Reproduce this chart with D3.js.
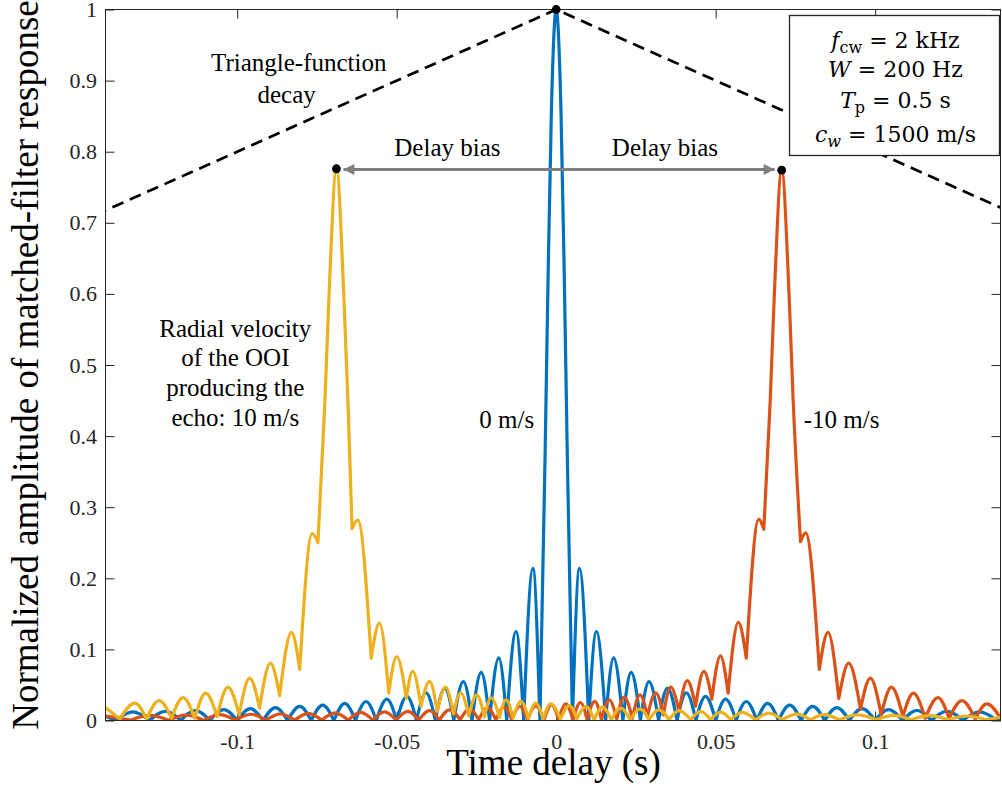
<!DOCTYPE html>
<html>
<head>
<meta charset="utf-8">
<script src="https://cdn.jsdelivr.net/npm/d3@7"></script>
<style>
  html, body { margin: 0; padding: 0; background: #fff; }
  svg { display: block; }
  text { font-family: "Liberation Serif", "Times New Roman", serif; }
</style>
</head>
<body>
<svg id="chart" width="1002" height="805"></svg>
<script>
// ---------------- data ----------------
const xTicks = [-0.1, -0.05, 0, 0.05, 0.1];
const xTickLabels = ["-0.1", "-0.05", "0", "0.05", "0.1"];
const yTicks = [0, 0.1, 0.2, 0.3, 0.4, 0.5, 0.6, 0.7, 0.8, 0.9, 1];
const yTickLabels = ["0", "0.1", "0.2", "0.3", "0.4", "0.5", "0.6", "0.7", "0.8", "0.9", "1"];

// extrema (time delay s, normalized amplitude)
const speed0 = [ // 0 m/s (blue)
  [-0.1439,0.0111],[-0.1382,0],[-0.1327,0.0120],[-0.1275,0],[-0.1225,0.0130],[-0.1177,0],[-0.1131,0.0141],[-0.1086,0],
  [-0.1042,0.0153],[-0.1000,0],[-0.0959,0.0166],[-0.0919,0],[-0.0880,0.0181],[-0.0842,0],[-0.0804,0.0198],[-0.0768,0],
  [-0.0732,0.0217],[-0.0697,0],[-0.0663,0.0240],[-0.0629,0],[-0.0596,0.0267],[-0.0564,0],[-0.0531,0.0300],[-0.0500,0],
  [-0.0468,0.0340],[-0.0438,0],[-0.0408,0.0390],[-0.0379,0],[-0.0349,0.0456],[-0.0321,0],[-0.0291,0.0546],[-0.0264,0],
  [-0.0235,0.0676],[-0.0209,0],[-0.0180,0.0880],[-0.0155,0],[-0.0126,0.1252],[-0.0102,0],[-0.0073,0.2140],[-0.0051,0],
  [-0.0035,0.368],[-0.0025,0.634],[-0.0015,0.858],[0,1],[0.0015,0.858],[0.0025,0.634],[0.0035,0.368],
  [0.0051,0],[0.0073,0.2140],[0.0102,0],[0.0126,0.1252],[0.0155,0],[0.0180,0.0880],[0.0209,0],[0.0235,0.0676],
  [0.0264,0],[0.0291,0.0546],[0.0321,0],[0.0349,0.0456],[0.0379,0],[0.0408,0.0390],[0.0438,0],[0.0468,0.0340],
  [0.0500,0],[0.0531,0.0300],[0.0564,0],[0.0596,0.0267],[0.0629,0],[0.0663,0.0240],[0.0697,0],[0.0732,0.0217],
  [0.0768,0],[0.0804,0.0198],[0.0842,0],[0.0880,0.0181],[0.0919,0],[0.0959,0.0166],[0.1000,0],[0.1042,0.0153],
  [0.1086,0],[0.1131,0.0141],[0.1177,0],[0.1225,0.0130],[0.1275,0],[0.1327,0.0120],[0.1382,0],[0.1439,0.0111]
];
const speedMinus10 = [ // -10 m/s (orange)
  [-0.1420,0.0068],[-0.1335,0.0005],[-0.1275,0.0072],[-0.1215,0.0005],[-0.1160,0.0077],[-0.1105,0.0005],
  [-0.1055,0.0082],[-0.1005,0.0005],[-0.0957,0.0088],[-0.0910,0.0005],[-0.0865,0.0094],[-0.0820,0.0005],
  [-0.0777,0.0100],[-0.0735,0.0005],[-0.0693,0.0107],[-0.0652,0.0005],[-0.0613,0.0113],[-0.0575,0.0005],
  [-0.0538,0.0120],[-0.0502,0.0005],[-0.0465,0.0127],[-0.0431,0.0005],[-0.0397,0.0140],[-0.0366,0.0005],
  [-0.0335,0.0150],[-0.0301,0.001],[-0.0272,0.0160],[-0.0243,0.001],[-0.0215,0.0174],[-0.0189,0.001],
  [-0.0163,0.0188],[-0.0139,0.001],[-0.0114,0.0197],[-0.0090,0.001],[-0.0064,0.0207],[-0.0038,0.001],
  [-0.0015,0.0220],[0.0008,0.001],[0.0030,0.0235],[0.0053,0.001],[0.0076,0.0253],[0.0097,0.001],
  [0.0121,0.0270],[0.0142,0.001],[0.0166,0.0290],[0.0190,0.002],[0.0213,0.0330],[0.0239,0.003],
  [0.0263,0.0360],[0.0286,0.0056],[0.0312,0.0390],[0.0336,0.008],[0.0359,0.0470],[0.0385,0.0127],
  [0.0411,0.0560],[0.0437,0.020],[0.0463,0.0690],[0.0488,0.030],[0.0515,0.0910],[0.0539,0.0385],
  [0.0571,0.1380],[0.0596,0.0877],[0.0635,0.2830],[0.0651,0.2690],[0.0671,0.45],[0.0684,0.60],
  [0.0707,0.774],[0.0730,0.60],[0.0743,0.45],[0.0766,0.2515],[0.0782,0.2640],[0.0825,0.072],
  [0.0852,0.1240],[0.0886,0.031],[0.0917,0.0807],[0.0954,0.016],[0.0985,0.0596],[0.1019,0.008],
  [0.1051,0.0470],[0.1087,0.0056],[0.1120,0.0385],[0.1157,0.003],[0.1197,0.0323],[0.1232,0.003],
  [0.1272,0.0280],[0.1314,0.002],[0.1350,0.0235],[0.1395,0.002],[0.1430,0.0200]
];
const speedPlus10 = [ // 10 m/s (yellow)
  [-0.1425,0.0225],[-0.1368,0.002],[-0.1321,0.0244],[-0.1284,0.002],[-0.1245,0.0281],[-0.1206,0.003],
  [-0.1170,0.0323],[-0.1133,0.003],[-0.1099,0.0385],[-0.1063,0.0056],[-0.1029,0.0470],[-0.0994,0.008],
  [-0.0961,0.0596],[-0.0930,0.0174],[-0.0896,0.0807],[-0.0867,0.035],[-0.0830,0.1240],[-0.0804,0.072],
  [-0.0765,0.2630],[-0.0747,0.2500],[-0.0725,0.45],[-0.0712,0.60],[-0.0689,0.776],[-0.0666,0.60],
  [-0.0653,0.45],[-0.0640,0.2700],[-0.0622,0.2820],[-0.0580,0.0877],[-0.0554,0.1370],[-0.0525,0.0385],
  [-0.0500,0.0900],[-0.0470,0.031],[-0.0450,0.0690],[-0.0424,0.020],[-0.0397,0.0550],[-0.0373,0.0127],
  [-0.0347,0.0470],[-0.0322,0.0094],[-0.0300,0.0390],[-0.0274,0.0066],[-0.0249,0.0360],[-0.0225,0.005],
  [-0.0204,0.0320],[-0.0178,0.004],[-0.0157,0.0290],[-0.0135,0.003],[-0.0110,0.0270],[-0.0087,0.002],
  [-0.0064,0.0245],[-0.0041,0.002],[-0.0017,0.0235],[0.0013,0.002],[0.0041,0.0210],[0.0065,0.002],
  [0.0093,0.0197],[0.0119,0.001],[0.0145,0.0188],[0.0173,0.001],[0.0202,0.0174],[0.0232,0.001],
  [0.0263,0.0160],[0.0291,0.001],[0.0322,0.0150],[0.0354,0.001],[0.0385,0.0140],[0.0422,0.001],
  [0.0453,0.0127],[0.0484,0.001],[0.0516,0.0118],[0.0547,0.001],[0.0583,0.0113],[0.0625,0.001],
  [0.0667,0.0104],[0.0708,0.001],[0.0755,0.0090],[0.0797,0.001],[0.0839,0.0084],[0.0888,0.001],
  [0.0945,0.0078],[0.1003,0.001],[0.1058,0.0073],[0.1113,0.001],[0.1170,0.0068],[0.1228,0.001],
  [0.1288,0.0063],[0.1348,0.001],[0.1410,0.0058]
];
const triangleDecay = [[-0.15, 0.70], [0, 1], [0.15, 0.70]];
const peakMarkers = [[-0.0689, 0.776], [0, 1], [0.0707, 0.774]];
const seriesColors = ["#0072BD", "#D95319", "#EDB120"];

// ---------------- layout ----------------
const svg = d3.select("#chart");
svg.append("rect").attr("width", 1002).attr("height", 805).attr("fill", "#fff");
const x = d3.scaleLinear().domain([-0.1413, 0.1393]).range([105.5, 1000.5]);
const y = d3.scaleLinear().domain([0, 1]).range([720.5, 9.5]);
const [x0, x1] = x.range(), [y0, y1] = y.range();

svg.append("defs").append("clipPath").attr("id", "plotclip")
  .append("rect").attr("x", x0).attr("y", y1).attr("width", x1 - x0).attr("height", y0 - y1);

// axes
const axisColor = "#262626";
const tickFont = 22;
function styleAxis(g) {
  g.attr("font-size", null).attr("font-family", null);
  g.select(".domain").remove();
  g.selectAll(".tick line").attr("stroke", axisColor).attr("stroke-width", 1);
  g.selectAll(".tick text").attr("fill", axisColor).style("font-size", tickFont + "px")
    .style("font-family", "'Liberation Serif', 'Times New Roman', serif");
}
svg.append("g").attr("transform", `translate(0,${y0})`)
  .call(d3.axisBottom(x).tickValues(xTicks).tickFormat((d, i) => xTickLabels[i]).tickSize(-9).tickPadding(12.9))
  .call(styleAxis);
svg.append("g").attr("transform", `translate(0,${y1})`)
  .call(d3.axisTop(x).tickValues(xTicks).tickFormat("").tickSize(-9))
  .call(styleAxis);
svg.append("g").attr("transform", `translate(${x0},0)`)
  .call(d3.axisLeft(y).tickValues(yTicks).tickFormat((d, i) => yTickLabels[i]).tickSize(-9).tickPadding(8.5))
  .call(styleAxis);
svg.append("g").attr("transform", `translate(${x1},0)`)
  .call(d3.axisRight(y).tickValues(yTicks).tickFormat("").tickSize(-9))
  .call(styleAxis);

const plot = svg.append("g").attr("clip-path", "url(#plotclip)");

// triangle-function decay (dashed)
plot.append("path")
  .attr("d", d3.line().x(d => x(d[0])).y(d => y(d[1]))(triangleDecay))
  .attr("fill", "none").attr("stroke", "#000").attr("stroke-width", 2.7)
  .attr("stroke-dasharray", "12,7");

// curves: split at local minima so nulls stay sharp
function splitAtMinima(pts) {
  const segs = []; let cur = [pts[0]];
  for (let i = 1; i < pts.length; i++) {
    cur.push(pts[i]);
    if (i < pts.length - 1 && pts[i][1] < pts[i - 1][1] && pts[i][1] < pts[i + 1][1]) {
      segs.push(cur); cur = [pts[i]];
    }
  }
  segs.push(cur);
  return segs;
}
const lineGen = d3.line().x(d => x(d[0])).y(d => y(d[1])).curve(d3.curveMonotoneX);
[speed0, speedMinus10, speedPlus10].forEach((s, i) => {
  plot.append("path")
    .attr("d", splitAtMinima(s).map(seg => lineGen(seg)).join(""))
    .attr("fill", "none").attr("stroke", seriesColors[i]).attr("stroke-width", 3.2)
    .attr("stroke-linejoin", "round").attr("stroke-linecap", "round");
});

// box
svg.append("rect").attr("x", x0).attr("y", y1).attr("width", x1 - x0).attr("height", y0 - y1)
  .attr("fill", "none").attr("stroke", axisColor).attr("stroke-width", 1);

// delay-bias double arrow
const arrowColor = "#7f7f7f";
const defs = svg.select("defs");
["start", "end"].forEach(k => {
  defs.append("marker").attr("id", "ah-" + k).attr("viewBox", "0 0 10 10")
    .attr("refX", 10).attr("refY", 5).attr("markerWidth", 13).attr("markerHeight", 11)
    .attr("markerUnits", "userSpaceOnUse").attr("orient", k === "start" ? "auto-start-reverse" : "auto")
    .append("path").attr("d", "M0,0 L10,5 L0,10 z").attr("fill", arrowColor);
});
const left = peakMarkers[0], right = peakMarkers[2];
const ay = y((left[1] + right[1]) / 2);
svg.append("line")
  .attr("x1", x(left[0]) + 7).attr("x2", x(right[0]) - 7).attr("y1", ay).attr("y2", ay)
  .attr("stroke", arrowColor).attr("stroke-width", 3)
  .attr("marker-start", "url(#ah-start)").attr("marker-end", "url(#ah-end)");

// peak markers
svg.selectAll("circle.pk").data(peakMarkers).enter().append("circle")
  .attr("cx", d => x(d[0])).attr("cy", d => y(d[1])).attr("r", 4.4).attr("fill", "#000");

// annotations (data coordinates)
const annotations = [
  ["Triangle-function", -0.0807, 0.913],
  ["decay", -0.0845, 0.869],
  ["Delay bias", -0.0341, 0.794],
  ["Delay bias", 0.0341, 0.794],
  ["Radial velocity", -0.1006, 0.540],
  ["of the OOI", -0.1006, 0.498],
  ["producing the", -0.1006, 0.456],
  ["echo: 10 m/s", -0.1006, 0.414],
  ["0 m/s", -0.0155, 0.411],
  ["-10 m/s", 0.0895, 0.411]
];
svg.selectAll("text.ann").data(annotations).enter().append("text")
  .attr("x", d => x(d[1])).attr("y", d => y(d[2]))
  .attr("text-anchor", "middle").style("font-size", "25px").attr("fill", "#000")
  .text(d => d[0]);

// parameter box
const bx = 789.5, by = 15.5, bw = 210, bh = 140;
svg.append("rect").attr("x", bx).attr("y", by).attr("width", bw).attr("height", bh)
  .attr("fill", "#fff").attr("stroke", "#262626").attr("stroke-width", 1.3);
const paramLines = [
  { v: "f", sub: "cw", subItalic: false, rest: " = 2 kHz", base: 48 },
  { v: "W", sub: "", subItalic: false, rest: " = 200 Hz", base: 77 },
  { v: "T", sub: "p", subItalic: false, rest: " = 0.5 s", base: 108 },
  { v: "c", sub: "w", subItalic: true, rest: " = 1500 m/s", base: 142 }
];
paramLines.forEach(p => {
  const t = svg.append("text").attr("x", bx + bw / 2 + 1).attr("y", p.base)
    .attr("text-anchor", "middle").attr("fill", "#000")
    .style("font-family", "'DejaVu Serif', serif").style("font-size", "22px");
  t.append("tspan").style("font-style", "italic").text(p.v);
  if (p.sub) {
    t.append("tspan").attr("dy", 5).style("font-size", "16px")
      .style("font-style", p.subItalic ? "italic" : "normal").text(p.sub);
    t.append("tspan").attr("dy", -5).text(p.rest);
  } else {
    t.append("tspan").text(p.rest);
  }
});

// axis titles
svg.append("text").attr("x", (x0 + x1) / 2 + 0.5).attr("y", 775)
  .attr("text-anchor", "middle").style("font-size", "37px").attr("fill", "#000")
  .text("Time delay (s)");
svg.append("text").attr("transform", `translate(38,${(y0 + y1) / 2}) rotate(-90)`)
  .attr("text-anchor", "middle").style("font-size", "37px").attr("fill", "#000")
  .text("Normalized amplitude of matched-filter response");
</script>
</body>
</html>
